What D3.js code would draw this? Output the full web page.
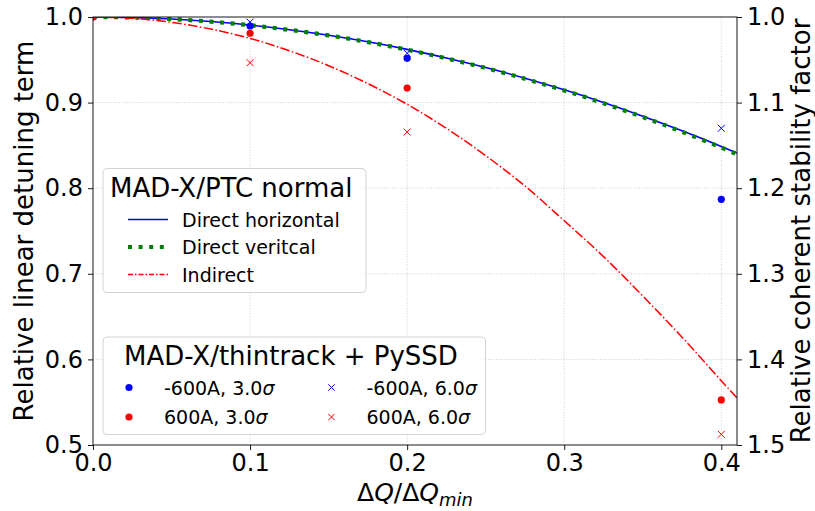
<!DOCTYPE html>
<html>
<head>
<meta charset="utf-8">
<script src="https://cdn.jsdelivr.net/npm/d3@7"></script>
<style>
  html, body { margin: 0; padding: 0; background: #fff; }
  svg { display: block; font-family: "DejaVu Sans", sans-serif; }
</style>
</head>
<body>
<svg id="chart" width="815" height="511"></svg>
<script>
// Normalised tune spread
const xLine = [0, 0.025, 0.05, 0.075, 0.1, 0.125, 0.15, 0.175, 0.2, 0.225, 0.25, 0.275, 0.3, 0.325, 0.35, 0.375, 0.4, 0.41];
// MAD-X/PTC normal form results
const directH  = [1.0, 0.9994, 0.9976, 0.9947, 0.9905, 0.9852, 0.9787, 0.9710, 0.9622, 0.9521, 0.9409, 0.9285, 0.9149, 0.9001, 0.8841, 0.8670, 0.8488, 0.8410];
const directV  = [1.0, 0.9994, 0.9976, 0.9946, 0.9904, 0.9850, 0.9785, 0.9707, 0.9618, 0.9517, 0.9404, 0.9279, 0.9142, 0.8993, 0.8832, 0.8659, 0.8475, 0.8397];
const indirect = [1.0, 0.9984, 0.9938, 0.9859, 0.9750, 0.9606, 0.9431, 0.9222, 0.8980, 0.8699, 0.8381, 0.8026, 0.7620, 0.7201, 0.6741, 0.6260, 0.5750, 0.5550];

// MAD-X/thintrack + PySSD results
const xPts3 = [0, 0.1, 0.2, 0.4];
const xPts6 = [0.1, 0.2, 0.4];
const neg600s3 = [1.0, 0.9895, 0.9517, 0.787];
const pos600s3 = [1.0, 0.981, 0.917, 0.5526];
const neg600s6 = [0.994, 0.9576, 0.870];
const pos600s6 = [0.9466, 0.8657, 0.5125];

const xTicks = [0.0, 0.1, 0.2, 0.3, 0.4];
const yTicks = [0.5, 0.6, 0.7, 0.8, 0.9, 1.0];
const yRTicks = [1.0, 1.1, 1.2, 1.3, 1.4, 1.5];

const lineLegend = ["Direct horizontal", "Direct veritcal", "Indirect"];
const ptsLegend = ["-600A, 3.0", "600A, 3.0", "-600A, 6.0", "600A, 6.0"];

const svg = d3.select("#chart");
const L = 93, R = 737, T = 17, B = 445;

const x = d3.scaleLinear().domain([0, 0.41]).range([L, R]);
const y = d3.scaleLinear().domain([0.5, 1.0]).range([B, T]);
const yR = d3.scaleLinear().domain([1.0, 1.5]).range([T, B]);

svg.append("rect").attr("width", 815).attr("height", 511).attr("fill", "#fff");

svg.append("defs").append("clipPath").attr("id", "plot-clip")
  .append("rect").attr("x", L).attr("y", T).attr("width", R - L).attr("height", B - T);

// grid
const grid = svg.append("g").attr("stroke", "#c4c4c4").attr("stroke-width", 0.8).attr("stroke-dasharray", "1,1.6");
grid.selectAll("line.gx").data(xTicks.slice(1)).join("line")
  .attr("x1", d => x(d)).attr("x2", d => x(d)).attr("y1", T).attr("y2", B);
grid.selectAll("line.gy").data(yTicks.slice(1, -1)).join("line")
  .attr("x1", L).attr("x2", R).attr("y1", d => y(d)).attr("y2", d => y(d));

// curves
const plot = svg.append("g").attr("clip-path", "url(#plot-clip)");
const line = (vals) => d3.line().x((d, i) => x(xLine[i])).y(d => y(d)).curve(d3.curveCatmullRom)(vals);

plot.append("path").attr("d", line(directH)).attr("fill", "none").attr("stroke", "#0000ff").attr("stroke-width", 1.6);
plot.append("path").attr("d", line(directV)).attr("fill", "none").attr("stroke", "#008000").attr("stroke-width", 4.2).attr("stroke-dasharray", "4,6.6");
plot.append("path").attr("d", line(indirect)).attr("fill", "none").attr("stroke", "#ff0000").attr("stroke-width", 1.5).attr("stroke-dasharray", "9.6,2.4,1.5,2.4");

// markers
function dots(xs, vs, color) {
  plot.append("g").selectAll("circle").data(vs).join("circle")
    .attr("cx", (d, i) => x(xs[i])).attr("cy", d => y(d)).attr("r", 3.6).attr("fill", color);
}
function crosses(xs, vs, color) {
  const s = 3.5;
  plot.append("g").selectAll("path").data(vs).join("path")
    .attr("d", (d, i) => {
      const cx = x(xs[i]), cy = y(d);
      return `M${cx - s},${cy - s}L${cx + s},${cy + s}M${cx - s},${cy + s}L${cx + s},${cy - s}`;
    })
    .attr("stroke", color).attr("stroke-width", 1).attr("fill", "none");
}
dots(xPts3, neg600s3, "#0000ff");
dots(xPts3, pos600s3, "#ff0000");
crosses(xPts6, neg600s6, "#0000ff");
crosses(xPts6, pos600s6, "#ff0000");

// axes
function styleAxis(g) {
  g.selectAll(".domain").remove();
  g.selectAll(".tick line").attr("stroke", "#000").attr("stroke-width", 0.9);
  g.selectAll(".tick text").attr("font-family", "DejaVu Sans").attr("font-size", 24).attr("fill", "#000");
}
svg.append("g").attr("transform", `translate(0,${B})`)
  .call(d3.axisBottom(x).tickValues(xTicks).tickFormat(d3.format(".1f")).tickSize(5).tickPadding(4))
  .call(styleAxis);
svg.append("g").attr("transform", `translate(${L},0)`)
  .call(d3.axisLeft(y).tickValues(yTicks).tickFormat(d3.format(".1f")).tickSize(5).tickPadding(5))
  .call(styleAxis);
svg.append("g").attr("transform", `translate(${R},0)`)
  .call(d3.axisRight(yR).tickValues(yRTicks).tickFormat(d3.format(".1f")).tickSize(5).tickPadding(5))
  .call(styleAxis);

// spines
svg.append("rect").attr("x", L).attr("y", T).attr("width", R - L).attr("height", B - T)
  .attr("fill", "none").attr("stroke", "#000").attr("stroke-width", 0.9);

// axis labels
svg.append("text").attr("transform", `translate(33,${(T + B) / 2}) rotate(-90)`)
  .attr("text-anchor", "middle").attr("font-size", 26).text("Relative linear detuning term");
svg.append("text").attr("transform", `translate(810,${(T + B) / 2}) rotate(-90)`)
  .attr("text-anchor", "middle").attr("font-size", 26).text("Relative coherent stability factor");

const xl = svg.append("text").attr("x", (L + R) / 2).attr("y", 501).attr("text-anchor", "middle").attr("font-size", 25);
xl.append("tspan").text("Δ");
xl.append("tspan").attr("font-style", "italic").text("Q");
xl.append("tspan").text("/Δ");
xl.append("tspan").attr("font-style", "italic").text("Q");
xl.append("tspan").attr("font-style", "italic").attr("font-size", 18).attr("dy", 5).text("min");

// legend: MAD-X/PTC normal
const lg1 = svg.append("g");
lg1.append("rect").attr("x", 103).attr("y", 168.5).attr("width", 263).attr("height", 124).attr("rx", 4)
  .attr("fill", "#fff").attr("fill-opacity", 0.8).attr("stroke", "#d4d4d4").attr("stroke-width", 1);
lg1.append("text").attr("x", 110).attr("y", 197).attr("font-size", 26).text("MAD-X/PTC normal");
const lineStyles = [
  { c: "#0000ff", w: 1.6, dash: null },
  { c: "#008000", w: 4.2, dash: "4,6.6" },
  { c: "#ff0000", w: 1.5, dash: "5,2,1.5,2" }
];
lineLegend.forEach((t, i) => {
  const cy = 219.5 + i * 27.5;
  const st = lineStyles[i];
  const ln = lg1.append("line").attr("x1", 128).attr("x2", 168).attr("y1", cy).attr("y2", cy)
    .attr("stroke", st.c).attr("stroke-width", st.w);
  if (st.dash) ln.attr("stroke-dasharray", st.dash);
  lg1.append("text").attr("x", 182).attr("y", cy + 7).attr("font-size", 19).text(t);
});

// legend: MAD-X/thintrack + PySSD
const lg2 = svg.append("g");
lg2.append("rect").attr("x", 103).attr("y", 337).attr("width", 382.5).attr("height", 97.5).attr("rx", 4)
  .attr("fill", "#fff").attr("fill-opacity", 0.8).attr("stroke", "#d4d4d4").attr("stroke-width", 1);
lg2.append("text").attr("x", 124).attr("y", 364.5).attr("font-size", 26).text("MAD-X/thintrack + PySSD");
const ptsStyles = [
  { c: "#0000ff", m: "o" }, { c: "#ff0000", m: "o" }, { c: "#0000ff", m: "x" }, { c: "#ff0000", m: "x" }
];
ptsLegend.forEach((t, i) => {
  const col = Math.floor(i / 2), row = i % 2;
  const mx = col ? 331.5 : 129, tx = col ? 366.5 : 164;
  const cy = 387.5 + row * 29.5;
  const st = ptsStyles[i];
  if (st.m === "o") {
    lg2.append("circle").attr("cx", mx).attr("cy", cy).attr("r", 3.6).attr("fill", st.c);
  } else {
    const s = 3.2;
    lg2.append("path").attr("d", `M${mx - s},${cy - s}L${mx + s},${cy + s}M${mx - s},${cy + s}L${mx + s},${cy - s}`)
      .attr("stroke", st.c).attr("stroke-width", 1).attr("fill", "none");
  }
  const tt = lg2.append("text").attr("x", tx).attr("y", cy + 7).attr("font-size", 19).text(t);
  tt.append("tspan").attr("font-style", "italic").text("σ");
});
</script>
</body>
</html>
